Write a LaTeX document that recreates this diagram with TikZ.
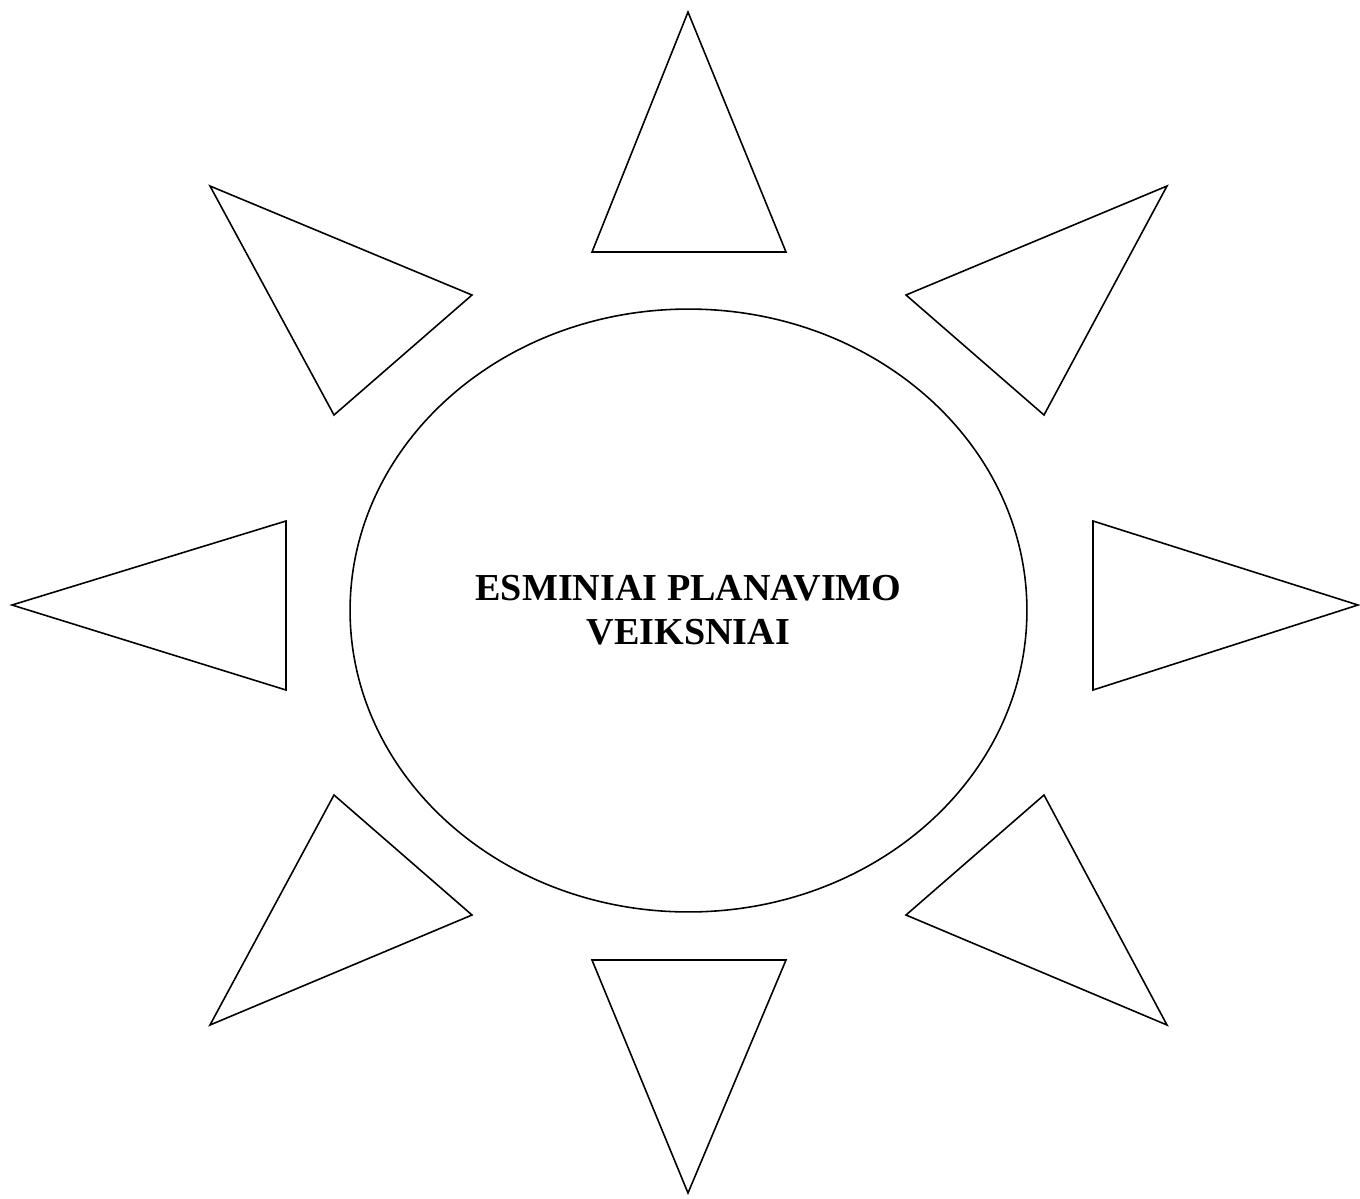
\documentclass[tikz,border=0pt]{standalone}
\usepackage{fontspec}
\setmainfont{Liberation Serif}
\usetikzlibrary{shapes.geometric}
\tikzset{
  every picture/.style={line width=0.9pt},
  core/.style={draw, ellipse, inner sep=0pt, minimum width=13.54cm, minimum height=12.06cm, align=center, font=\fontsize{21.7}{25}\selectfont\bfseries},
  ray/.style={draw, line join=miter},
}

\begin{document}
\begin{tikzpicture}[x=0.02cm, y=-0.02cm]
  \useasboundingbox (0,0) rectangle (1360,1198);
  \node[core] (c) at (688.5,610.5) {ESMINIAI PLANAVIMO\\VEIKSNIAI};
  % rays round the ellipse
  \draw[ray] (688,12) -- (786,252) -- (592,252) -- cycle;
  \draw[ray] (1167,186) -- (1044,415) -- (906,295) -- cycle;
  \draw[ray] (1358,605) -- (1093,690) -- (1093,521) -- cycle;
  \draw[ray] (1167,1025) -- (906,915) -- (1044,795) -- cycle;
  \draw[ray] (688,1193) -- (592,960) -- (786,960) -- cycle;
  \draw[ray] (210,1025) -- (334,795) -- (472,915) -- cycle;
  \draw[ray] (12,605) -- (286,521) -- (286,690) -- cycle;
  \draw[ray] (210,186) -- (472,295) -- (334,415) -- cycle;
\end{tikzpicture}
\end{document}
